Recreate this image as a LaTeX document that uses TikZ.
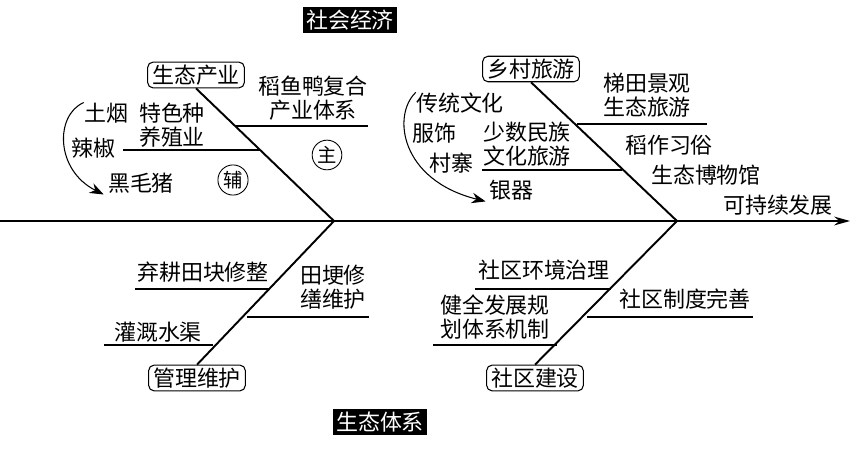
\documentclass[tikz,border=0pt]{standalone}
\usepackage{fontspec}
\usepackage{tikz}
\usetikzlibrary{arrows.meta,calc}
\newfontfamily\cjk{Noto Sans CJK SC}
\tikzset{
  every node/.style={font=\cjk\fontsize{12.5}{13.6}\selectfont,inner sep=0pt,align=center},
  cat/.style={draw,rounded corners=3pt,inner xsep=2.5pt,inner ysep=1.5pt,line width=0.6pt},
  dim/.style={fill=black,text=white,inner sep=1.6pt},
  ring/.style={draw,circle,inner sep=0.8pt,line width=0.5pt,font=\cjk\fontsize{11}{11}\selectfont},
  bone/.style={line width=1.1pt},
  twig/.style={line width=0.6pt},
}

\begin{document}
\begin{tikzpicture}[x=0.02cm,y=-0.02cm]
  \useasboundingbox (0,0) rectangle (856,462);
  \coordinate (tail) at (0,221);
  \coordinate (head) at (850,221);
  \coordinate (J1) at (334,221);
  \coordinate (J2) at (677,221);
  \node[dim] (SE) at (350,20) {社会经济};
  \node[dim] (ES) at (380,422) {生态体系};
  \node[cat] (A) at (196,75) {生态产业};
  \node[cat] (B) at (531,69) {乡村旅游};
  \node[cat] (C) at (197,378) {管理维护};
  \node[cat] (D) at (535,378) {社区建设};
  \node (a1) at (313,98) {稻鱼鸭复合\\产业体系};
  \node (a2) at (172,125) {特色种\\养殖业};
  \node (a3) at (106,113) {土烟};
  \node (a4) at (93,148) {辣椒};
  \node (a5) at (141,183) {黑毛猪};
  \node[ring] (zhu) at (327,155) {主};
  \node[ring] (fu) at (233,180) {辅};
  \node (b1) at (647,95) {梯田景观\\生态旅游};
  \node (b2) at (527,144) {少数民族\\文化旅游};
  \node (b3) at (669,145) {稻作习俗};
  \node (b4) at (706,175) {生态博物馆};
  \node (b5) at (460,103) {传统文化};
  \node (b6) at (434,133) {服饰};
  \node (b7) at (451,163) {村寨};
  \node (b8) at (511,190) {银器};
  \node (goal) at (778,205) {可持续发展};
  \node (c1) at (203,272) {弃耕田块修整};
  \node (c2) at (333,287) {田埂修\\缮维护};
  \node (c3) at (158,332) {灌溉水渠};
  \node (d1) at (544,270) {社区环境治理};
  \node (d2) at (685,299) {社区制度完善};
  \node (d3) at (495,317) {健全发展规\\划体系机制};
  \coordinate (ea) at ($(a5.south west)+(-4,1)$);
  \coordinate (eb) at ($(b8.south west)+(-3,1)$);
  \draw[line width=0.8pt,-{Stealth[length=9pt,width=5pt]}] (tail) -- (head);
  \draw[bone] (A.south) -- (J1);
  \draw[bone] (B.south) -- (J2);
  \draw[bone] (C.north) -- (J1);
  \draw[bone] (D.north) -- (J2);
  \draw[twig] (235,126) -- (368,126);
  \draw[twig] (123,150) -- (260,150);
  \draw[twig] (577,124) -- (707,124);
  \draw[twig] (482,170) -- (622,170);
  \draw[twig] (135,289) -- (270,289);
  \draw[twig] (247,317) -- (369,317);
  \draw[twig] (104,345) -- (213,345);
  \draw[twig] (475,289) -- (611,289);
  \draw[twig] (587,317) -- (753,317);
  \draw[twig] (433,345) -- (557,345);
  \draw[line width=0.6pt,-{Stealth[length=8pt,width=6pt]}] (a3.north west) .. controls (55,115) and (55,170) .. (ea);
  \draw[line width=0.6pt,-{Stealth[length=8pt,width=6pt]}] (b5.north west) .. controls (392,115) and (400,180) .. (eb);
\end{tikzpicture}
\end{document}
